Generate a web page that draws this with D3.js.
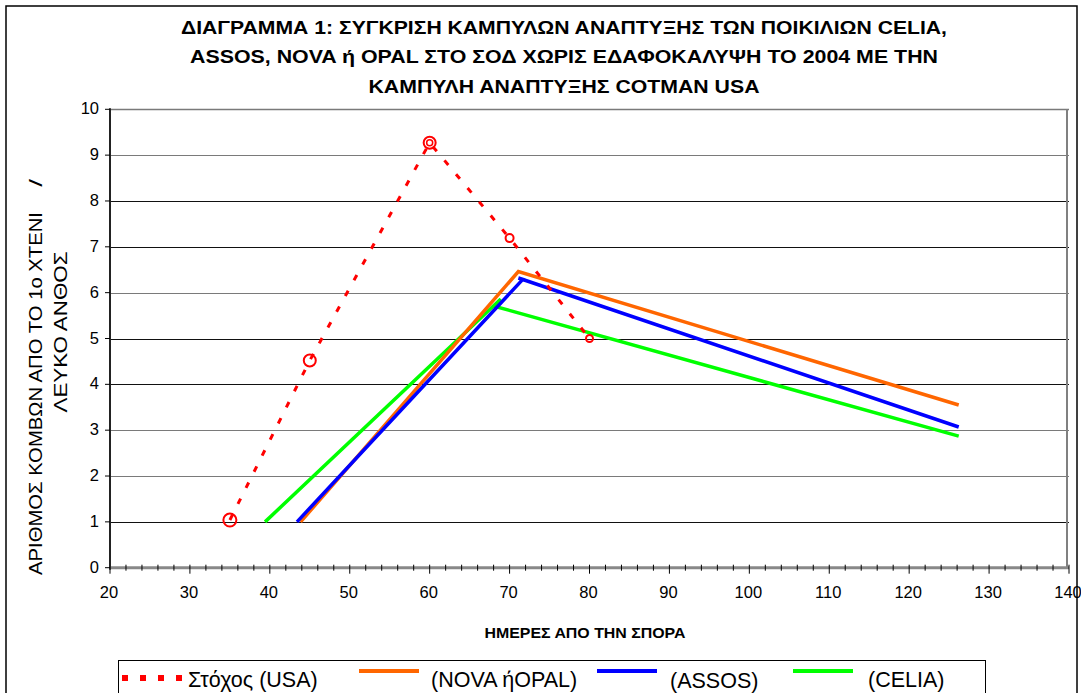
<!DOCTYPE html>
<html>
<head>
<meta charset="utf-8">
<script src="https://cdn.jsdelivr.net/npm/d3@7"></script>
<style>
  html, body { margin: 0; padding: 0; background: #fff; }
  svg { display: block; }
  .narrow { font-family: "Liberation Sans Narrow", "Arial Narrow", "Liberation Sans", Arial, sans-serif; font-weight: bold; }
  .reg { font-family: "Liberation Sans", Arial, sans-serif; }
</style>
</head>
<body>
<svg id="chart" width="1081" height="693"></svg>
<script>
// ---------- DATA ----------
const titleLines = [
  "ΔΙΑΓΡΑΜΜΑ 1: ΣΥΓΚΡΙΣΗ ΚΑΜΠΥΛΩΝ ΑΝΑΠΤΥΞΗΣ ΤΩΝ ΠΟΙΚΙΛΙΩΝ CELIA,",
  "ASSOS, NOVA ή OPAL ΣΤΟ ΣΟΔ ΧΩΡΙΣ ΕΔΑΦΟΚΑΛΥΨΗ ΤΟ 2004 ΜΕ ΤΗΝ",
  "ΚΑΜΠΥΛΗ ΑΝΑΠΤΥΞΗΣ COTMAN USA"
];
const xTitle = "ΗΜΕΡΕΣ ΑΠΟ ΤΗΝ ΣΠΟΡΑ";
const yTitle1 = "ΑΡΙΘΜΟΣ ΚΟΜΒΩΝ ΑΠΟ ΤΟ 1ο ΧΤΕΝΙ";
const yTitleSlash = "/";
const yTitle2 = "ΛΕΥΚΟ  ΑΝΘΟΣ";

const xTicks = [20, 30, 40, 50, 60, 70, 80, 90, 100, 110, 120, 130, 140];
const yTicks = [0, 1, 2, 3, 4, 5, 6, 7, 8, 9, 10];

const usaDays   = [35, 45, 60, 70, 80];
const usaNodes  = [1.04, 4.52, 9.27, 7.19, 5.0];

const novaDays  = [43.85, 71.1, 126.2];
const novaNodes = [1.0, 6.46, 3.55];

const assosDays  = [43.4, 71.65, 71.1, 126.2];
const assosNodes = [1.0, 6.29, 6.32, 3.07];

const celiaDays  = [39.4, 68.9, 68.2, 126.2];
const celiaNodes = [1.0, 5.86, 5.70, 2.87];

const seriesNames = ["Στόχος (USA)", "(NOVA ήOPAL)", "(ASSOS)", "(CELIA)"];

// ---------- STYLE ----------
const colors = { usa: "#FF0000", nova: "#FF6600", assos: "#0000FF", celia: "#00FF00" };
const usaMarkerR = [6.5, 6, 6, 4, 3.5];

// ---------- CHART ----------
const svg = d3.select("#chart");

// outer border
svg.append("rect").attr("x", 6).attr("y", 6).attr("width", 1071).attr("height", 700)
  .attr("fill", "#fff").attr("stroke", "#000").attr("stroke-width", 1.5);

const x = d3.scaleLinear().domain([20, 140]).range([110, 1069]);
const y = d3.scaleLinear().domain([0, 10]).range([567.7, 109.3]);

// title
const titleY = [34, 63, 93];
const titleLen = [766, 748, 391];
titleLines.forEach((t, i) => {
  svg.append("text").attr("class", "narrow")
    .attr("x", 564).attr("y", titleY[i])
    .attr("text-anchor", "middle")
    .attr("font-size", 17.5)
    .attr("textLength", titleLen[i]).attr("lengthAdjust", "spacingAndGlyphs")
    .text(t);
});

// gridlines
svg.append("g").selectAll("line").data(yTicks.filter(d => d > 0)).join("line")
  .attr("x1", x(20)).attr("x2", x(140))
  .attr("y1", d => Math.round(y(d)) + 0.5).attr("y2", d => Math.round(y(d)) + 0.5)
  .attr("stroke", d => (d >= 9 || d === 6 || d === 3 || d === 2) ? "#7a7a7a" : "#111")
  .attr("stroke-width", d => d === 10 ? 1.6 : 1.2);

// right border of plot
svg.append("line").attr("x1", x(140) - 2).attr("x2", x(140) - 2)
  .attr("y1", y(10)).attr("y2", y(0))
  .attr("stroke", "#808080").attr("stroke-width", 2);

// x axis
const xAxisG = svg.append("g").attr("transform", `translate(0,${y(0)})`);
xAxisG.append("line").attr("x1", x(20)).attr("x2", x(140)).attr("y1", 0).attr("y2", 0)
  .attr("stroke", "#888").attr("stroke-width", 3);
const minor = d3.range(20, 141, 2).filter(d => d % 10 !== 0);
xAxisG.selectAll("line.minor").data(minor).join("line").attr("class", "minor")
  .attr("x1", d => x(d)).attr("x2", d => x(d)).attr("y1", -3).attr("y2", 3)
  .attr("stroke", "#000").attr("stroke-width", 1);
xAxisG.selectAll("line.major").data(xTicks).join("line").attr("class", "major")
  .attr("x1", d => x(d)).attr("x2", d => x(d)).attr("y1", -3).attr("y2", 6)
  .attr("stroke", "#000").attr("stroke-width", 1);
xAxisG.selectAll("text").data(xTicks).join("text").attr("class", "reg")
  .attr("x", d => x(d) - 1).attr("y", 30)
  .attr("text-anchor", "middle").attr("font-size", 16.5).attr("fill", "#000")
  .text(d => d);

// y axis
const yAxisG = svg.append("g").attr("transform", `translate(${x(20)},0)`);
yAxisG.append("line").attr("x1", 0).attr("x2", 0).attr("y1", y(10) - 1).attr("y2", y(0) + 2)
  .attr("stroke", "#222").attr("stroke-width", 2);
yAxisG.selectAll("line.t").data(yTicks).join("line").attr("class", "t")
  .attr("x1", -5).attr("x2", 0).attr("y1", d => y(d)).attr("y2", d => y(d))
  .attr("stroke", "#000").attr("stroke-width", 1);
yAxisG.selectAll("text").data(yTicks).join("text").attr("class", "reg")
  .attr("x", -11).attr("y", d => y(d) + 5)
  .attr("text-anchor", "end").attr("font-size", 16.5).attr("fill", "#000")
  .text(d => d);

// axis titles
svg.append("text").attr("class", "narrow")
  .attr("x", 585).attr("y", 638).attr("text-anchor", "middle")
  .attr("font-size", 14).attr("textLength", 201).attr("lengthAdjust", "spacingAndGlyphs")
  .text(xTitle);

svg.append("text").attr("class", "reg")
  .attr("transform", "translate(42,575) rotate(-90)")
  .attr("font-size", 19).attr("fill", "#000")
  .attr("textLength", 363).attr("lengthAdjust", "spacingAndGlyphs")
  .text(yTitle1);
svg.append("text").attr("class", "reg")
  .attr("transform", "translate(42,186) rotate(-90)")
  .attr("font-size", 19).attr("font-weight", "bold").attr("font-style", "italic").attr("fill", "#000")
  .text(yTitleSlash);

svg.append("text").attr("class", "reg")
  .attr("transform", "translate(67,332) rotate(-90)")
  .attr("text-anchor", "middle").attr("font-size", 19).attr("fill", "#000")
  .attr("textLength", 161).attr("lengthAdjust", "spacingAndGlyphs")
  .text(yTitle2);

// lines
const line = d3.line().x(d => x(d[0])).y(d => y(d[1]));
const zip = (a, b) => a.map((v, i) => [v, b[i]]);

const plot = svg.append("g");
plot.append("path").datum(zip(celiaDays, celiaNodes)).attr("d", line)
  .attr("fill", "none").attr("stroke", colors.celia).attr("stroke-width", 3.5).attr("stroke-linejoin", "miter");
plot.append("path").datum(zip(novaDays, novaNodes)).attr("d", line)
  .attr("fill", "none").attr("stroke", colors.nova).attr("stroke-width", 3.5).attr("stroke-linejoin", "miter");
plot.append("path").datum(zip(assosDays, assosNodes)).attr("d", line)
  .attr("fill", "none").attr("stroke", colors.assos).attr("stroke-width", 3.5).attr("stroke-linejoin", "miter");
plot.append("path").datum(zip(usaDays, usaNodes)).attr("d", line)
  .attr("fill", "none").attr("stroke", colors.usa).attr("stroke-width", 3)
  .attr("stroke-dasharray", "6,12");

// USA markers
plot.selectAll("circle.usa").data(zip(usaDays, usaNodes)).join("circle").attr("class", "usa")
  .attr("cx", d => x(d[0])).attr("cy", d => y(d[1]))
  .attr("r", (d, i) => usaMarkerR[i])
  .attr("fill", "none").attr("stroke", colors.usa).attr("stroke-width", 2);
plot.selectAll("circle.usaInner").data(zip(usaDays, usaNodes).filter((d, i) => i === 2)).join("circle")
  .attr("class", "usaInner")
  .attr("cx", d => x(d[0])).attr("cy", d => y(d[1])).attr("r", 3)
  .attr("fill", "none").attr("stroke", colors.usa).attr("stroke-width", 1.5);

// legend
const leg = svg.append("g");
leg.append("rect").attr("x", 118.5).attr("y", 660.5).attr("width", 867).attr("height", 60)
  .attr("fill", "#fff").attr("stroke", "#000").attr("stroke-width", 1);

const legItems = [
  { name: seriesNames[0], color: colors.usa, dash: "6,12", sx: 122, sy: 678, tx: 188, ty: 687, w: 3 },
  { name: seriesNames[1], color: colors.nova, dash: null, sx: 359, sy: 671, tx: 431, ty: 687, w: 4 },
  { name: seriesNames[2], color: colors.assos, dash: null, sx: 597, sy: 671, tx: 670, ty: 688, w: 4 },
  { name: seriesNames[3], color: colors.celia, dash: null, sx: 793, sy: 671, tx: 868, ty: 687, w: 4 }
];
legItems.forEach(it => {
  const l = leg.append("line").attr("x1", it.sx).attr("x2", it.sx + 60)
    .attr("y1", it.sy).attr("y2", it.sy)
    .attr("stroke", it.color).attr("stroke-width", it.dash ? 6 : it.w);
  if (it.dash) l.attr("stroke-dasharray", it.dash);
  leg.append("text").attr("class", "reg").attr("x", it.tx).attr("y", it.ty)
    .attr("font-size", 21.5).attr("fill", "#000").text(it.name);
});
</script>
</body>
</html>
